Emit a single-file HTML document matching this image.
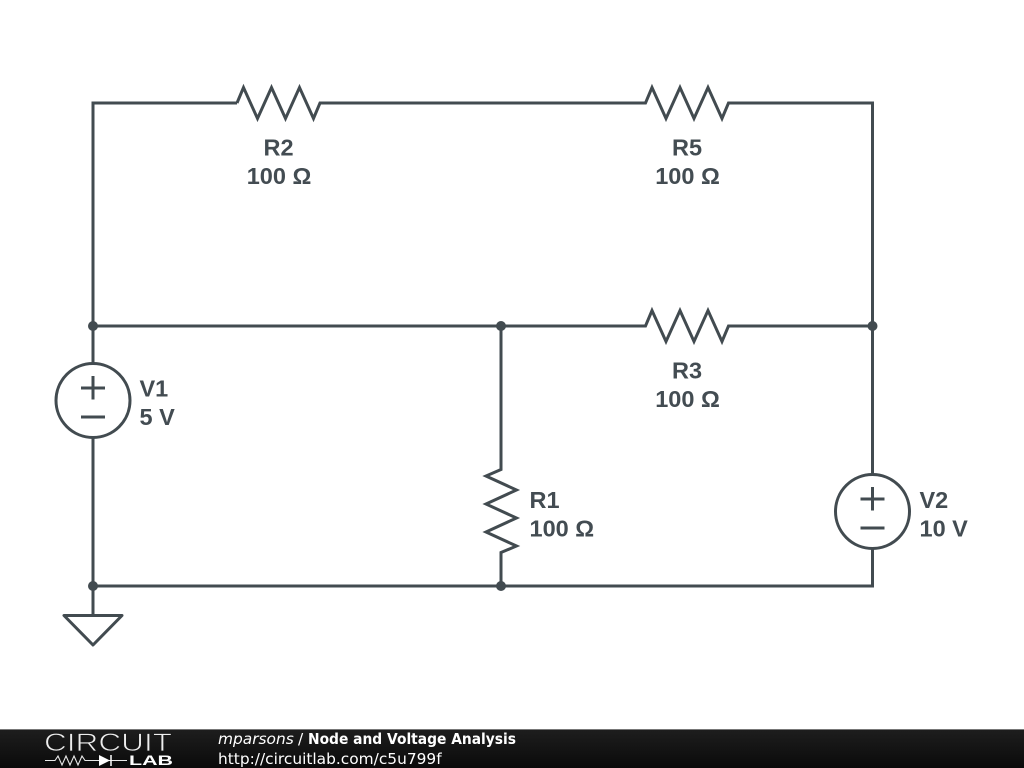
<!DOCTYPE html>
<html><head><meta charset="utf-8"><style>
html,body{margin:0;padding:0;background:#fff;width:1024px;height:768px;overflow:hidden}
svg{display:block}
.l{font-family:"Liberation Sans",sans-serif;font-weight:bold;font-size:23.5px;fill:#434c52}
.f{font-family:"DejaVu Sans",sans-serif;font-size:15.4px;fill:#fff}
</style></head><body>
<svg width="1024" height="768" viewBox="0 0 1024 768" xmlns="http://www.w3.org/2000/svg">
<defs><linearGradient id="g" x1="0" y1="0" x2="0" y2="1"><stop offset="0" stop-color="#1e1e1e"/><stop offset="1" stop-color="#0a0a0a"/></linearGradient></defs>
<g fill="none" stroke="#424b50" stroke-width="3" stroke-linejoin="miter" stroke-linecap="butt">
<polyline points="237,103 93,103 93,363"/>
<polyline points="93,438 93,615.5"/>
<polyline points="237,103 243.5,87.5 257.5,118.5 271.5,87.5 285.5,118.5 299.5,87.5 313.5,118.5 320,103 645.5,103 652,87.5 666,118.5 680,87.5 694,118.5 708,87.5 722,118.5 728.5,103 872.5,103 872.5,474"/>
<polyline points="93,326 645.5,326 652,310.5 666,341.5 680,310.5 694,341.5 708,310.5 722,341.5 728.5,326 872.5,326"/>
<polyline points="501,326 501,469.5 486,476 516.5,490 486,504 516.5,518 486,532 516.5,546 501,552.5 501,586"/>
<polyline points="93,586 872.5,586 872.5,549"/>
<circle cx="93" cy="400.5" r="37"/>
<path d="M81 388H105M93 376V399.5M81 417H105"/>
<circle cx="872.5" cy="511.5" r="37"/>
<path d="M860.5 499H884.5M872.5 487V510.5M860.5 528H884.5"/>
<polygon points="64,615.5 122,615.5 93,645" stroke-linejoin="round"/>
</g>
<g fill="#424b50"><circle cx="93" cy="326" r="5"/><circle cx="501" cy="326" r="5"/><circle cx="872.5" cy="326" r="5"/><circle cx="93" cy="586" r="5"/><circle cx="501" cy="586" r="5"/></g>
<text class="l" x="278.5" y="155.5" text-anchor="middle">R2</text>
<text class="l" x="279" y="184" text-anchor="middle">100 Ω</text>
<text class="l" x="687" y="155.5" text-anchor="middle">R5</text>
<text class="l" x="687.5" y="184" text-anchor="middle">100 Ω</text>
<text class="l" x="687" y="378.5" text-anchor="middle">R3</text>
<text class="l" x="687.5" y="407" text-anchor="middle">100 Ω</text>
<text class="l" x="529.5" y="508">R1</text>
<text class="l" x="529.5" y="536.5">100 Ω</text>
<text class="l" x="139.5" y="396.5">V1</text>
<text class="l" x="139.5" y="425">5 V</text>
<text class="l" x="919.5" y="508">V2</text>
<text class="l" x="919.5" y="536.5">10 V</text>
<rect x="0" y="729" width="1024" height="39" fill="url(#g)"/>
<rect x="0" y="729" width="1024" height="1" fill="#777"/>
<text x="44" y="751" font-family="Liberation Sans,sans-serif" font-size="25" fill="#eee" stroke="#191919" stroke-width="0.8" textLength="128" lengthAdjust="spacingAndGlyphs">CIRCUIT</text>
<path d="M45 760.5H55L58 756 62 765 66 756 70 765 74 756 78 765 82 756 85 760.5H127" fill="none" stroke="#e8e8e8" stroke-width="1.1"/>
<path d="M99 755V766L110 760.5Z" fill="#fff"/><path d="M111 755V766" stroke="#fff" stroke-width="1.5"/>
<text x="129" y="765" font-family="Liberation Sans,sans-serif" font-weight="bold" font-size="13.5" fill="#fff" textLength="44" lengthAdjust="spacingAndGlyphs">LAB</text>
<text class="f" x="218" y="744" font-style="italic">mparsons</text>
<text class="f" x="298" y="744">/</text>
<text class="f" x="308" y="744" font-weight="bold" textLength="208" lengthAdjust="spacingAndGlyphs">Node and Voltage Analysis</text>
<text class="f" x="218" y="764">http://circuitlab.com/c5u799f</text>
</svg>
</body></html>
